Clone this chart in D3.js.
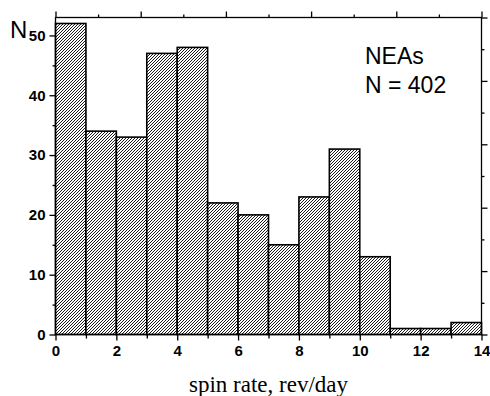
<!DOCTYPE html>
<html>
<head>
<meta charset="utf-8">
<script src="https://cdn.jsdelivr.net/npm/d3@7"></script>
<style>
  body { margin: 0; background: #fff; }
  svg { display: block; }
</style>
</head>
<body>
<svg width="490" height="396"></svg>
<script>
// spin rate histogram of NEAs

var binStarts = [0, 1, 2, 3, 4, 5, 6, 7, 8, 9, 10, 11, 12, 13];
var counts = [52, 34, 33, 47, 48, 22, 20, 15, 23, 31, 13, 1, 1, 2];
var xTickValues = [0, 2, 4, 6, 8, 10, 12, 14];
var yTickValues = [0, 10, 20, 30, 40, 50];

var svg = d3.select("svg");

var mLeft = 55.5, mRight = 481.5, mTop = 17.5, mBottom = 334.5;

var x = d3.scaleLinear().domain([0, 14]).range([mLeft, mRight]);
var y = d3.scaleLinear().domain([0, 53]).range([mBottom, mTop]);

// hatch pattern
var pat = svg.append("defs").append("pattern")
    .attr("id", "hatch")
    .attr("patternUnits", "userSpaceOnUse")
    .attr("width", 3)
    .attr("height", 3);
pat.append("rect").attr("width", 3).attr("height", 3).attr("fill", "#fff");
pat.append("path")
    .attr("d", "M0,3 L3,0 M-1,1 L1,-1 M2,4 L4,2")
    .attr("stroke", "#000")
    .attr("stroke-width", 0.9);

var bins = binStarts.map(function(d, i) { return { x0: d, x1: d + 1, n: counts[i] }; });

svg.selectAll("rect.bar")
    .data(bins)
    .enter()
    .append("rect")
    .attr("class", "bar")
    .attr("x", function(d) { return x(d.x0); })
    .attr("y", function(d) { return y(d.n); })
    .attr("width", function(d) { return x(d.x1) - x(d.x0); })
    .attr("height", function(d) { return y(0) - y(d.n); })
    .attr("fill", "url(#hatch)")
    .attr("stroke", "#000")
    .attr("stroke-width", 1.6);

// frame
svg.append("rect")
    .attr("x", mLeft).attr("y", mTop)
    .attr("width", mRight - mLeft).attr("height", mBottom - mTop)
    .attr("fill", "none")
    .attr("stroke", "#000")
    .attr("stroke-width", 1.3);

// bottom axis
svg.append("g").attr("transform", "translate(0," + mBottom + ")")
    .call(d3.axisBottom(x).tickValues(xTickValues).tickSize(6).tickPadding(5).tickFormat(d3.format("d")));
svg.append("g").attr("transform", "translate(0," + mBottom + ")")
    .call(d3.axisBottom(x).tickValues(d3.range(1, 14, 2)).tickSize(4).tickFormat(""));

// left axis
svg.append("g").attr("transform", "translate(" + mLeft + ",0)")
    .call(d3.axisLeft(y).tickValues(yTickValues).tickSize(6).tickPadding(4).tickFormat(d3.format("d")));
svg.append("g").attr("transform", "translate(" + mLeft + ",0)")
    .call(d3.axisLeft(y).tickValues([5, 15, 25, 35, 45]).tickSize(3).tickFormat(""));

// top axis (10 divisions)
var topTicks = d3.range(0, 11).map(function(i) { return i * 1.4; });
svg.append("g").attr("transform", "translate(0," + mTop + ")")
    .call(d3.axisTop(x).tickValues(topTicks.filter(function(d, i) { return i % 2 === 0; })).tickSize(6).tickFormat(""));
svg.append("g").attr("transform", "translate(0," + mTop + ")")
    .call(d3.axisTop(x).tickValues(topTicks.filter(function(d, i) { return i % 2 === 1; })).tickSize(3).tickFormat(""));

// right axis (10 divisions)
var rightTicks = d3.range(0, 11).map(function(i) { return i * 5.3; });
svg.append("g").attr("transform", "translate(" + mRight + ",0)")
    .call(d3.axisRight(y).tickValues(rightTicks.filter(function(d, i) { return i % 2 === 0; })).tickSize(6).tickFormat(""));
svg.append("g").attr("transform", "translate(" + mRight + ",0)")
    .call(d3.axisRight(y).tickValues(rightTicks.filter(function(d, i) { return i % 2 === 1; })).tickSize(3).tickFormat(""));

svg.selectAll(".domain").remove();
svg.selectAll(".tick line").attr("stroke", "#000").attr("stroke-width", 1.3);
svg.selectAll(".tick text")
    .attr("font-family", "'Liberation Sans', Arial, sans-serif")
    .attr("font-size", 15)
    .attr("font-weight", "bold")
    .attr("fill", "#000");

// labels
svg.append("text")
    .attr("x", 10).attr("y", 37.5)
    .attr("font-family", "'Liberation Sans', Arial, sans-serif")
    .attr("font-size", 24)
    .text("N");

svg.append("text")
    .attr("x", (mLeft + mRight) / 2).attr("y", 391.5)
    .attr("text-anchor", "middle")
    .attr("font-family", "'Liberation Serif', 'Times New Roman', serif")
    .attr("font-size", 23)
    .text("spin rate, rev/day");

svg.append("text")
    .attr("x", 365).attr("y", 63.5)
    .attr("font-family", "'Liberation Sans', Arial, sans-serif")
    .attr("font-size", 23)
    .text("NEAs");
svg.append("text")
    .attr("x", 365).attr("y", 93.3)
    .attr("font-family", "'Liberation Sans', Arial, sans-serif")
    .attr("font-size", 23)
    .text("N = 402");
</script>
</body>
</html>
